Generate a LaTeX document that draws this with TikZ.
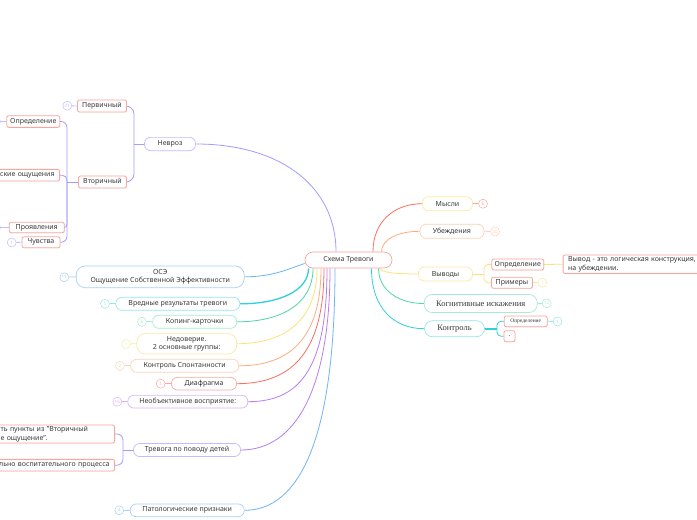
\documentclass[tikz,border=0pt]{standalone}
\usepackage{fontspec}
\setmainfont{Noto Sans}
\newfontfamily\serifc{Liberation Serif}
\usetikzlibrary{shadows}
\pgfdeclarelayer{bg}
\pgfsetlayers{bg,main}
\definecolor{txt}{HTML}{3A3A3A}
\definecolor{salB}{HTML}{F7A79C}
\definecolor{redL}{HTML}{FB6F5F}
\definecolor{redB}{HTML}{F9A9A0}
\definecolor{orL}{HTML}{FDAE80}
\definecolor{orB}{HTML}{FDD2B8}
\definecolor{yeL}{HTML}{FBE37A}
\definecolor{yeB}{HTML}{F9EBA2}
\definecolor{grL}{HTML}{4ED8A6}
\definecolor{grB}{HTML}{A8EBD2}
\definecolor{cyL}{HTML}{2ED0DA}
\definecolor{cyB}{HTML}{97E5EC}
\definecolor{blL}{HTML}{6FB3F8}
\definecolor{blB}{HTML}{A9D0F8}
\definecolor{lvL}{HTML}{A29CFF}
\definecolor{lvB}{HTML}{C0BCFF}
\definecolor{puL}{HTML}{B67EF2}
\definecolor{puB}{HTML}{D6B5F6}
\tikzset{
 nbase/.style={fill=white, text=txt, font=\fontsize{7}{8.5}\selectfont, inner sep=0pt, align=center, line width=0.7pt},
 mainbox/.style={nbase, draw=#1, rounded corners=6pt},
 subbox/.style={nbase, draw=salB, rounded corners=2pt, line width=0.8pt, drop shadow={opacity=0.12, shadow xshift=0.6pt, shadow yshift=-0.6pt}},
 cnt/.style={circle, draw=#1, text=#1, fill=white, line width=0.5pt, minimum size=9pt, inner sep=0pt, font=\fontsize{4.5}{5}\selectfont},
 lnk/.style={draw=#1, line width=0.8pt},
 wh/.style 2 args={minimum width=#1pt, minimum height=#2pt},
 serbig/.style={font=\serifc\fontsize{8.5}{10}\selectfont},
}
\begin{document}
\begin{tikzpicture}[x=1pt,y=-1pt]
\useasboundingbox (0,0) rectangle (697,520);
\begin{pgfonlayer}{bg}
\fill[white] (0,0) rectangle (697,520);
\end{pgfonlayer}
% central
\node[mainbox=salB, wh={87}{16}, rounded corners=8pt] (c) at (348.5,260) {Схема Тревоги};
% right side
\node[mainbox=yeB, wh={50}{14}] (mysli) at (447.5,203.7) {Мысли};
\node[cnt=redB] (nm) at (483,203.7) {6};
\node[mainbox=orB, wh={64}{14}] (ub) at (452,231.3) {Убеждения};
\node[cnt=orB] (nu) at (495,231.5) {20};
\node[mainbox=yeB, wh={54}{14}] (vyv) at (445.5,274) {Выводы};
\node[subbox, wh={52}{11}] (opr1) at (517.8,264.5) {Определение};
\node[subbox, wh={41}{11}] (prim) at (512,282.8) {Примеры};
\node[cnt=yeB] (np) at (542.3,282.8) {1};
\node[subbox, anchor=west, minimum height=18.5pt, text width=150pt, align=left, inner xsep=5pt] (vt) at (562.7,264.2) {Вывод - это логическая конструкция, по\\на убеждении.};
\node[mainbox=grB, wh={113}{18}, rounded corners=8pt, serbig] (kog) at (480.7,303.5) {Когнитивные искажения};
\node[cnt=grB] (nk) at (546.7,303.3) {12};
\node[mainbox=cyB, wh={60}{16}, rounded corners=8pt, serbig] (kon) at (454.5,328.7) {Контроль};
\node[subbox, wh={43}{10.7}, font=\serifc\fontsize{5.5}{6}\selectfont] (opr2) at (525.7,321.3) {Определение};
\node[cnt=cyB] (no) at (557.5,321.5) {1};
\node[subbox, wh={11}{11}] (dot) at (509.5,336.2) {.};
% left side
\node[mainbox=lvB, wh={51}{13.3}] (nev) at (170,144) {Невроз};
\node[subbox, wh={49}{12}] (perv) at (102,106) {Первичный};
\node[cnt=lvB] (n21) at (67.3,105.7) {21};
\node[subbox, wh={48}{12}] (vtor) at (102.5,182) {Вторичный};
\node[subbox, wh={53}{11.7}] (opr3) at (33.3,121.5) {Определение};
\node[cnt=lvB] (nopr3) at (-4,121.5) {};
\node[subbox, anchor=east, minimum height=11.7pt, text width=65pt, align=right, inner xsep=5pt] (fiz) at (60,175.2) {ские ощущения};
\node[subbox, wh={55}{10.5}] (pro) at (36.7,227.5) {Проявления};
\node[cnt=lvB] (npro) at (-4,227.5) {};
\node[subbox, wh={38}{11}] (chu) at (41,242.3) {Чувства};
\node[cnt=lvB] (nchu) at (11.7,242.5) {1};
\node[mainbox=blB, wh={168}{21.7}, rounded corners=9pt] (osz) at (160.2,276.8) {ОСЭ\\Ощущение Собственной Эффективности};
\node[cnt=blB] (n11) at (64.3,277.3) {11};
\node[mainbox=cyB, wh={124}{13}] (vred) at (177.8,303.8) {Вредные результаты тревоги};
\node[cnt=cyB] (nvr) at (105,303.8) {1};
\node[mainbox=grB, wh={84}{13}] (kop) at (194.7,321.8) {Копинг-карточки};
\node[cnt=grB] (nkop) at (142,321.8) {6};
\node[mainbox=yeB, wh={100}{20.7}, rounded corners=9pt] (ned) at (186.7,343.7) {Недоверие.\\2 основные группы:};
\node[cnt=yeB] (nned) at (126,344) {1};
\node[mainbox=orB, wh={108}{13}] (ksp) at (184.7,365.8) {Контроль Спонтанности};
\node[cnt=orB] (nksp) at (120,365.8) {2};
\node[mainbox=redB, wh={65}{12.7}] (dia) at (204,383.7) {Диафрагма};
\node[cnt=redB] (ndia) at (160.7,383.7) {1};
\node[mainbox=puB, wh={120}{12.7}] (neo) at (187.8,401.7) {Необъективное восприятие:};
\node[cnt=puB] (nneo) at (117.3,401.7) {16};
\node[mainbox=lvB, wh={107}{13}] (trv) at (187,450) {Тревога по поводу детей};
\node[subbox, anchor=east, text width=110pt, align=left, inner xsep=4pt, minimum height=18pt] (tc1) at (115,434) {ть пункты из "Вторичный\\е ощущение".};
\node[subbox, anchor=east, text width=140pt, align=right, inner xsep=5pt, minimum height=11.7pt] (tc2) at (115,465.2) {тельно воспитательного процесса};
\node[mainbox=blB, wh={114}{12.7}] (pat) at (187.2,510.3) {Патологические признаки};
\node[cnt=blB] (npat) at (119.3,510.3) {4};
% junctions
\coordinate (jy) at (484,274);
\coordinate (jc) at (497,328.7);
\coordinate (jn) at (134,144);
\coordinate (jv) at (67,182);
\coordinate (jt) at (123,450);
\begin{pgfonlayer}{bg}
% right links
\draw[lnk=redL] ([xshift=24.5pt]c.north) .. controls +(0,-30) and +(-28,0) .. (mysli.west);
\draw[lnk=orL] ([xshift=33pt]c.north) .. controls +(0,-12) and +(-22,0) .. (ub.west);
\draw[lnk=yeL] ([xshift=31.5pt]c.south) .. controls +(0,4) and +(-22,0) .. (vyv.west);
\draw[lnk=grL] ([xshift=30pt]c.south) .. controls +(0,22) and +(-25,0) .. (kog.west);
\draw[lnk=cyL] ([xshift=23pt]c.south) .. controls +(0,40) and +(-30,0) .. (kon.west);
\draw[lnk=redB] (mysli.east) -- (nm);
\draw[lnk=orB] (ub.east) -- (nu);
\draw[lnk=yeL] (vyv.east) -- (jy);
\draw[lnk=yeL, rounded corners=4pt] (opr1.west) -| (jy) |- (prim.west);
\draw[lnk=yeL] (opr1.east) -- (vt.west);
\draw[lnk=yeB] (prim.east) -- (np);
\draw[lnk=grB] (kog.east) -- (nk);
\draw[cyL, line width=2pt] (kon.east) -- (jc);
\draw[lnk=cyL, rounded corners=4pt] (opr2.west) -| (jc) |- (dot.west);
\draw[lnk=cyB] (opr2.east) -- (no);
% left links
\draw[lnk=lvL] (nev.east) .. controls +(85,0) and +(0,-65) .. ([xshift=-12.5pt]c.north);
\draw[lnk=lvL] (nev.west) -- (jn);
\draw[lnk=lvL, rounded corners=8pt] (perv.east) -| (jn) |- (vtor.east);
\draw[lnk=lvB] (perv.west) -- (n21);
\draw[lnk=lvL] (vtor.west) -- (jv);
\draw[lnk=lvL, rounded corners=6pt] (opr3.east) -| (jv) |- (chu.east);
\draw[lnk=lvL, rounded corners=5pt] (fiz.east) -| (jv);
\draw[lnk=lvL, rounded corners=3pt] (pro.east) -| (jv);
\draw[lnk=lvB] (opr3.west) -- (nopr3);
\draw[lnk=lvB] (pro.west) -- (npro);
\draw[lnk=lvB] (chu.west) -- (nchu);
\draw[lnk=blL] ([yshift=-3.5pt]c.west) .. controls +(-18,6) and +(28,0) .. (osz.east);
\draw[cyL, line width=1.3pt] ([xshift=-40pt]c.south) .. controls +(0,22) and +(40,0) .. (vred.east);
\draw[lnk=grL] ([xshift=-35.5pt]c.south) .. controls +(0,35) and +(45,0) .. (kop.east);
\draw[lnk=yeL] ([xshift=-31.5pt]c.south) .. controls +(0,50) and +(50,0) .. (ned.east);
\draw[lnk=orL] ([xshift=-27.5pt]c.south) .. controls +(0,65) and +(55,0) .. (ksp.east);
\draw[lnk=redL] ([xshift=-24.5pt]c.south) .. controls +(0,80) and +(58,0) .. (dia.east);
\draw[lnk=puL] ([xshift=-21.5pt]c.south) .. controls +(0,95) and +(55,0) .. (neo.east);
\draw[lnk=puL] ([xshift=-18.5pt]c.south) .. controls +(0,120) and +(55,0) .. (trv.east);
\draw[lnk=blL] ([xshift=-13.5pt]c.south) .. controls +(0,170) and +(55,0) .. (pat.east);
\draw[lnk=blB] (osz.west) -- (n11);
\draw[lnk=cyB] (vred.west) -- (nvr);
\draw[lnk=grB] (kop.west) -- (nkop);
\draw[lnk=yeB] (ned.west) -- (nned);
\draw[lnk=orB] (ksp.west) -- (nksp);
\draw[lnk=redB] (dia.west) -- (ndia);
\draw[lnk=puB] (neo.west) -- (nneo);
\draw[lnk=blB] (pat.west) -- (npat);
\draw[lnk=lvL] (trv.west) -- (jt);
\draw[lnk=lvL, rounded corners=6pt] (tc1.east) -| (jt) |- (tc2.east);
\end{pgfonlayer}
\end{tikzpicture}
\end{document}
